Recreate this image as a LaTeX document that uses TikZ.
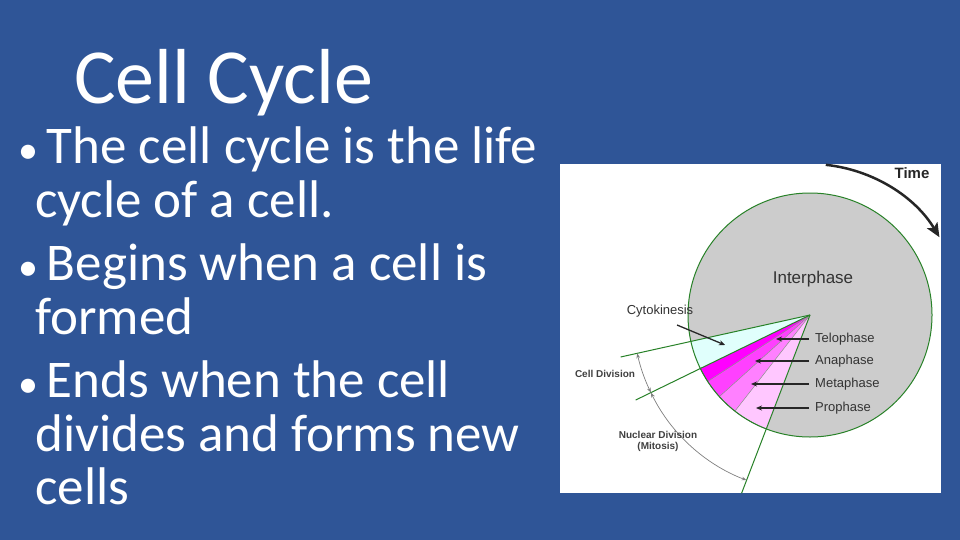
\documentclass[tikz,border=0pt]{standalone}
\usepackage{fontspec}
\setmainfont{Carlito}
\newfontfamily\arial{Liberation Sans}
\usetikzlibrary{arrows.meta}
\definecolor{bg}{RGB}{47,85,151}
\definecolor{ln}{RGB}{40,130,40}
\definecolor{mg}{RGB}{255,0,255}
\newcommand{\bul}{{\fontsize{40}{40}\selectfont•}\,}
\begin{document}
\begin{tikzpicture}[x=1pt,y=-1pt,
 lbl/.style={font=\arial\fontsize{13}{13}\selectfont,text=black!80,inner sep=0},
 sml/.style={font=\arial\bfseries\fontsize{10}{11}\selectfont,text=black!75,inner sep=0,align=center},
 bl/.style={font=\fontsize{53}{53}\selectfont,text=white,anchor=base west,inner sep=0},
 parr/.style={-{Stealth[length=6pt,width=5pt]},line width=1.3pt,black!85},
 dim/.style={{Stealth[length=5pt]}-{Stealth[length=5pt]},gray,line width=0.7pt}]
\fill[bg] (0,0) rectangle (960,540);
\useasboundingbox (0,0) rectangle (960,540);
\node (title) [font=\fontsize{78}{78}\selectfont,text=white,anchor=base west,inner sep=0] at (74,104) {Cell Cycle};
\node (b1) [bl] at (18,164) {\bul The cell cycle is the life};
\node (b1b) [bl] at (35,217) {cycle of a cell.};
\node (b2) [bl] at (18,280) {\bul Begins when a cell is};
\node (b2b) [bl] at (35,334) {formed};
\node (b3) [bl] at (18,397) {\bul Ends when the cell};
\node (b3b) [bl] at (35,451) {divides and forms new};
\node (b3c) [bl] at (35,504) {cells};
% image
\fill[white] (560,164) rectangle (941,493);
\coordinate (c) at (810,315);
\fill[gray!40] (c) circle (122);
\fill[green!10!cyan!12] (c) -- ++(167.5:122) arc (167.5:154:122) -- cycle;
\fill[mg] (c) -- ++(154:122) arc (154:147:122) -- cycle;
\fill[mg!75] (c) -- ++(147:122) arc (147:138:122) -- cycle;
\fill[mg!50] (c) -- ++(138:122) arc (138:128:122) -- cycle;
\fill[mg!22] (c) -- ++(128:122) arc (128:111:122) -- cycle;
\foreach \a in {147,138,128} \draw[black!45,line width=0.5pt] (c) -- ++(\a:122);
\draw[black!60,line width=0.6pt] (c) ++(154:122) arc (154:111:122);
\draw[ln,line width=1pt] (c) circle (122);
\draw[ln,line width=1pt] (c) -- ++(167.5:194) coordinate (e1);
\draw[ln,line width=1pt] (c) -- ++(154:194) coordinate (e2);
\draw[ln,line width=1pt] (c) -- ++(111:191) coordinate (e3);
\draw[dim] (c) ++(167.5:177) arc (167.5:154:177);
\draw[dim] (c) ++(154:177) arc (154:111:177);
\draw[-{Stealth[length=14pt,width=12pt,inset=3pt]},line width=2.5pt,black!85] (c) ++(-84:151) arc (-84:-31:151);
\node (time) [font=\arial\bfseries\fontsize{15}{15}\selectfont,text=black!85,inner sep=0] at (912,173) {Time};
\node (inter) [font=\arial\fontsize{17}{17}\selectfont,text=black!80,inner sep=0] at (813,279) {Interphase};
\node (cyto) [lbl] at (660,311) {Cytokinesis};
\node (telo) [lbl,anchor=west] at (815,339) {Telophase};
\node (ana) [lbl,anchor=west] at (815,361) {Anaphase};
\node (meta) [lbl,anchor=west] at (815,384) {Metaphase};
\node (pro) [lbl,anchor=west] at (815,408) {Prophase};
\coordinate (ct) at (725,345);
\draw[parr] (677,325) -- (ct);
\draw[parr] (telo.west) ++(-6,0) -- (776,339);
\draw[parr] (ana.west) ++(-6,0) -- (755,361);
\draw[parr] (meta.west) ++(-6,0) -- (751,384);
\draw[parr] (pro.west) ++(-6,0) -- (756,408);
\node (cd) [sml] at (605,374) {Cell Division};
\node (nd) [sml] at (658,441) {Nuclear Division\\(Mitosis)};
\end{tikzpicture}
\end{document}
